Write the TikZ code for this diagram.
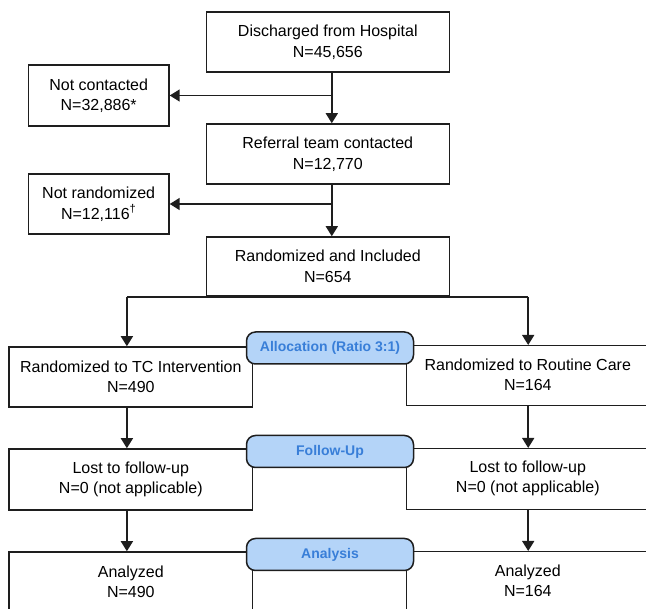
\documentclass[tikz,border=0pt]{standalone}
\usepackage{fontspec}
\setmainfont{Liberation Sans}
\usetikzlibrary{arrows.meta}
\definecolor{pillfill}{RGB}{180,212,248}
\definecolor{pilltext}{RGB}{56,126,216}
\definecolor{ln}{RGB}{30,30,30}
\begin{document}
\begin{tikzpicture}[x=1pt,y=-1pt,
  box/.style={draw=ln, line width=1.5pt, rectangle, inner sep=0pt, minimum height=60pt, align=center, font=\fontsize{16}{20.5}\selectfont},
  txt/.style={inner sep=0pt, align=center, font=\fontsize{16}{20.5}\selectfont},
  pill/.style={draw=ln, line width=1.5pt, fill=pillfill, rounded corners=9pt, minimum width=167pt, minimum height=32pt, inner sep=0pt, text=pilltext, font=\fontsize{14}{16}\selectfont\bfseries},
  arr/.style={draw=ln, line width=1.5pt, -{Triangle[length=10pt,width=12pt]}},
  ln/.style={draw=ln, line width=1.5pt}
]
\useasboundingbox (0,0) rectangle (646,609);
\clip (0,0) rectangle (646,609);
% top chain
\node[box, minimum width=243pt] (dis) at (327.8,42) {Discharged from Hospital\\N=45,656};
\node[box, minimum width=140.5pt, minimum height=61pt] (nc) at (98.7,95.5) {Not contacted\\N=32,886*};
\node[box, minimum width=243pt] (ref) at (327.8,154) {Referral team contacted\\N=12,770};
\node[box, minimum width=140.5pt] (nr) at (98.7,204) {Not randomized\\N=12,116\textsuperscript{\dag}};
\node[box, minimum width=243pt, minimum height=59pt] (ri) at (327.8,266.5) {Randomized and Included\\N=654};
\coordinate (a1) at ([xshift=4pt]dis.south);
\coordinate (a2) at ([xshift=4pt]ref.south);
\draw[arr] (a1) -- (a1 |- ref.north);
\draw[arr] (a1 |- nc.east) -- (nc.east);
\draw[arr] (a2) -- (a2 |- ri.north);
\draw[arr] (a2 |- nr.east) -- (nr.east);
% left column
\node[box, minimum width=243.5pt] (tc) at (130.8,377) {Randomized to TC Intervention\\N=490};
\node[box, minimum width=243.5pt, minimum height=61pt] (lostL) at (130.8,479.5) {Lost to follow-up\\N=0 (not applicable)};
\node[box, minimum width=243.5pt] (anL) at (130.8,582) {Analyzed\\N=490};
% right column (boxes run past the right edge)
\node[box, minimum width=300pt, anchor=north west] (rcbox) at (405.8,345) {};
\node[txt] (rc) at (527.8,375) {Randomized to Routine Care\\N=164};
\node[box, minimum width=300pt, minimum height=61pt, anchor=north west] (lostRbox) at (405.8,448) {};
\node[txt] (lostR) at (527.8,478.5) {Lost to follow-up\\N=0 (not applicable)};
\node[box, minimum width=300pt, anchor=north west] (anRbox) at (405.8,551) {};
\node[txt] (anR) at (527.8,581) {Analyzed\\N=164};
% branch
\coordinate (bl) at (126.9,297);
\coordinate (br) at (528.2,297);
\draw[ln] (bl) -- (br);
\draw[arr] (bl) -- (bl |- tc.north);
\draw[arr] (br) -- (br |- rcbox.north);
\draw[arr] (bl |- tc.south) -- (bl |- lostL.north);
\draw[arr] (br |- rcbox.south) -- (br |- lostRbox.north);
\draw[arr] (bl |- lostL.south) -- (bl |- anL.north);
\draw[arr] (br |- lostRbox.south) -- (br |- anRbox.north);
% phase pills
\node[pill] (alloc) at (330,348) {Allocation (Ratio 3:1)};
\node[pill] (fu) at (330,451.5) {Follow-Up};
\node[pill] (an) at (330,554.5) {Analysis};
\end{tikzpicture}
\end{document}
